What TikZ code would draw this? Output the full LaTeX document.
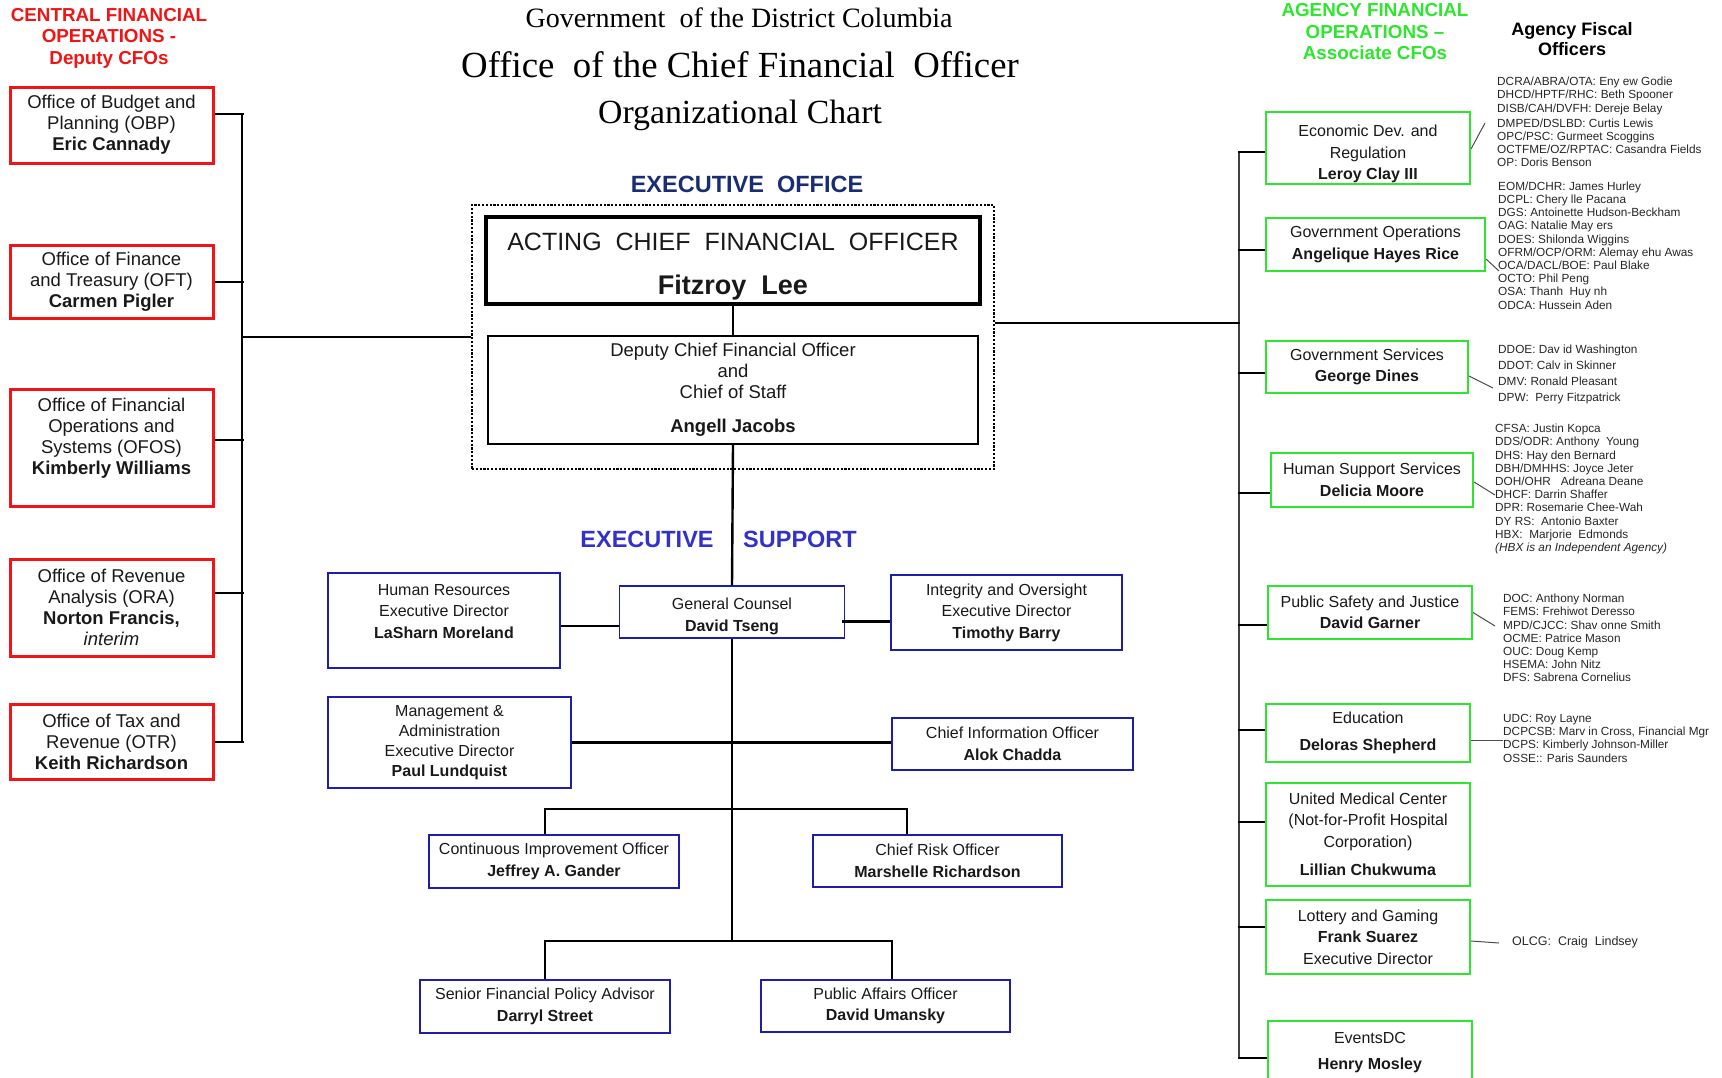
\documentclass[tikz,border=0pt]{standalone}
\usepackage{fontspec}
\setmainfont{Liberation Sans}
\newfontfamily\titlefont{Liberation Serif}
\definecolor{cfored}{RGB}{240,20,20}
\definecolor{afogreen}{RGB}{45,230,45}
\definecolor{execnavy}{RGB}{25,45,115}
\definecolor{suppblue}{RGB}{50,50,200}
\definecolor{boxblue}{RGB}{30,30,170}
\newcommand{\fs}[2]{\fontsize{#1}{#2}\selectfont}
\tikzset{
  box/.style     = {align=center, inner sep=0pt, text=black!90},
  central/.style = {box, draw=cfored, line width=3pt, minimum width=203pt, font=\fs{18.5}{21}},
  acfobox/.style = {box, draw=black, line width=4.5pt},
  dcfobox/.style = {box, draw=black, line width=1.2pt, font=\fs{18.5}{21}},
  sup/.style     = {box, draw=boxblue, line width=1.6pt, font=\fs{16}{21.5}},
  agency/.style  = {box, draw=afogreen, line width=2pt, minimum width=204pt, font=\fs{16}{21.5}},
  fo/.style      = {anchor=north west, align=left, inner sep=0pt, font=\fs{11.8}{13.2}, text=black!85},
  link/.style    = {draw=black, line width=2.4pt},
  spine/.style   = {draw=black, line width=2pt},
  tick/.style    = {draw=black!70, line width=1pt},
  head/.style    = {align=center, inner sep=0pt, font=\fs{18.8}{21.5}\bfseries},
  bighead/.style = {inner sep=0pt, font=\fs{23.5}{26}\bfseries},
}

\begin{document}
\begin{tikzpicture}[x=1pt, y=-1pt]
\clip (0,0) rectangle (1722,1077);

% titles
\node[font=\titlefont\fs{28}{32}] (govt)  at (739,17.5) {Government\ \ of the District Columbia};
\node[font=\titlefont\fs{36.8}{40}] (ocfo)  at (740,65)   {Office\ \ of the Chief Financial\ \ Officer};
\node[font=\titlefont\fs{33.8}{38}] (chart) at (740,115)  {Organizational Chart};

% central financial operations
\node[head, text=cfored] (cfohead) at (109,38) {CENTRAL FINANCIAL\\OPERATIONS -\\Deputy CFOs};
\node[central, minimum height=76]  (obp)  at (111.5,125)   {Office of Budget and\\Planning (OBP)\\\textbf{Eric Cannady}};
\node[central, minimum height=73]  (oft)  at (111.5,281.5) {Office of Finance\\and Treasury (OFT)\\\textbf{Carmen Pigler}};
\node[central, minimum height=117] (ofos) at (111.5,447.5) {Office of Financial\\Operations and\\Systems (OFOS)\\\textbf{Kimberly Williams}\\[1pt]};
\node[central, minimum height=97]  (ora)  at (111.5,607.5) {Office of Revenue\\Analysis (ORA)\\\textbf{Norton Francis,}\\\textit{interim}};
\node[central, minimum height=75]  (otr)  at (111.5,741.5) {Office of Tax and\\Revenue (OTR)\\\textbf{Keith Richardson}};

% executive office
\node[bighead, text=execnavy] (exoff) at (747,184.5) {EXECUTIVE\ \ OFFICE};
\node[draw=black, line width=2.2pt, dash pattern=on 2.2pt off 1.6pt,
      minimum width=522, minimum height=264, inner sep=0pt] (execbox) at (733,337) {};
\node[acfobox, minimum width=494, minimum height=87, font=\fs{25}{30}] (acfo) at (733,260.5)
  {ACTING\ \ CHIEF\ \ FINANCIAL\ \ OFFICER\\[14pt]{\fs{27}{30}\bfseries Fitzroy\ \ Lee}\\[-36pt]};
\node[dcfobox, minimum width=490, minimum height=108] (dcfo) at (733,390)
  {Deputy Chief Financial Officer\\and\\Chief of Staff\\[13pt]\textbf{Angell Jacobs}};

% executive support
\node[bighead, text=suppblue] (exsup1) at (647,539) {EXECUTIVE};
\node[bighead, text=suppblue] (exsup2) at (800,539) {SUPPORT};
\node[sup, minimum width=232, minimum height=95] (hr)    at (444,620.5)  {Human Resources\\Executive Director\\\textbf{LaSharn Moreland}\\[-3pt]};
\node[sup, minimum width=225, minimum height=52] (gc)    at (732,612)    {General Counsel\\\textbf{David Tseng}\\[-27pt]};
\node[sup, minimum width=231, minimum height=75] (integ) at (1006.5,612.5){Integrity and Oversight\\Executive Director\\\textbf{Timothy Barry}};
\node[sup, minimum width=243, minimum height=91, font=\fs{16}{20}] (mgmt) at (449.5,742.5)
  {Management \&\\Administration\\Executive Director\\\textbf{Paul Lundquist}};
\node[sup, minimum width=241, minimum height=52] (cio)   at (1012.5,744) {Chief Information Officer\\\textbf{Alok Chadda}};
\node[sup, minimum width=250, minimum height=53] (cip)   at (554,861.5)  {Continuous Improvement Officer\\\textbf{Jeffrey A. Gander}};
\node[sup, minimum width=249, minimum height=52] (cro)   at (937.5,861)  {Chief Risk Officer\\\textbf{Marshelle Richardson}};
\node[sup, minimum width=250, minimum height=53] (sfpa)  at (545,1006.5) {Senior Financial Policy Advisor\\\textbf{Darryl Street}};
\node[sup, minimum width=249, minimum height=52] (pao)   at (885.5,1006) {Public Affairs Officer\\\textbf{David Umansky}};

% agency financial operations
\node[head, text=afogreen] (afohead) at (1375,32) {AGENCY FINANCIAL\\OPERATIONS --\\Associate CFOs};
\node[align=center, inner sep=0pt, font=\fs{18}{20}\bfseries] (fohead) at (1572,39) {Agency Fiscal\\Officers};
\node[agency, minimum height=72]  (econ) at (1368,148)    {Economic Dev. and\\Regulation\\\textbf{Leroy Clay III}\\[-30pt]};
\node[agency, minimum width=219, minimum height=53] (gops) at (1375.5,244.5) {Government Operations\\\textbf{Angelique Hayes Rice}};
\node[agency, minimum width=202, minimum height=52] (gsvc) at (1367,367) {Government Services\\\textbf{George Dines}};
\node[agency, minimum width=202, minimum height=54] (hss)  at (1372,480) {Human Support Services\\\textbf{Delicia Moore}};
\node[agency, minimum height=53]  (psj)  at (1370,612.5)  {Public Safety and Justice\\\textbf{David Garner}};
\node[agency, minimum height=58]  (edu)  at (1368,733)    {Education\\[6pt]\textbf{Deloras Shepherd}};
\node[agency, minimum height=103] (umc)  at (1368,834.5)  {United Medical Center\\(Not-for-Profit Hospital\\Corporation)\\[7pt]\textbf{Lillian Chukwuma}};
\node[agency, minimum height=74]  (lott) at (1368,937)    {Lottery and Gaming\\\textbf{Frank Suarez}\\Executive Director};
\node[agency, minimum height=79]  (evdc) at (1370,1060.5) {EventsDC\\[5pt]\textbf{Henry Mosley}\\[-2pt]};

% agency fiscal officers
\node[fo] (fo1) at (1497,77) {DCRA/ABRA/OTA: Eny ew Godie\\DHCD/HPTF/RHC: Beth Spooner\\DISB/CAH/DVFH: Dereje Belay\\[2pt]
  DMPED/DSLBD: Curtis Lewis\\OPC/PSC: Gurmeet Scoggins\\OCTFME/OZ/RPTAC: Casandra Fields\\OP: Doris Benson};
\node[fo] (fo2) at (1498,181.5) {EOM/DCHR: James Hurley\\DCPL: Chery lle Pacana\\DGS: Antoinette Hudson-Beckham\\OAG: Natalie May ers\\
  DOES: Shilonda Wiggins\\OFRM/OCP/ORM: Alemay ehu Awas\\OCA/DACL/BOE: Paul Blake\\OCTO: Phil Peng\\OSA: Thanh\ \ Huy nh\\ODCA: Hussein Aden};
\node[fo, font=\fs{11.8}{16}] (fo3) at (1498,345) {DDOE: Dav id Washington\\DDOT: Calv in Skinner\\DMV: Ronald Pleasant\\DPW:\ \ Perry Fitzpatrick};
\node[fo] (fo4) at (1495,424) {CFSA: Justin Kopca\\DDS/ODR: Anthony\ \ Young\\DHS: Hay den Bernard\\DBH/DMHHS: Joyce Jeter\\DOH/OHR\ \ \ Adreana Deane\\
  DHCF: Darrin Shaffer\\DPR: Rosemarie Chee-Wah\\DY RS:\ \ Antonio Baxter\\HBX:\ \ Marjorie\ \ Edmonds\\\textit{(HBX is an Independent Agency)}};
\node[fo] (fo5) at (1503,594) {DOC: Anthony Norman\\FEMS: Frehiwot Deresso\\MPD/CJCC: Shav onne Smith\\OCME: Patrice Mason\\OUC: Doug Kemp\\
  HSEMA: John Nitz\\DFS: Sabrena Cornelius};
\node[fo] (fo6) at (1503,714) {UDC: Roy Layne\\DCPCSB: Marv in Cross, Financial Mgr\\DCPS: Kimberly Johnson-Miller\\OSSE:: Paris Saunders};
\node[fo, anchor=west, font=\fs{12.5}{14}] (fo7) at (1512,942) {OLCG:\ \ Craig\ \ Lindsey};

% left spine
\coordinate (ltop) at (242,114);
\coordinate (lbot) at (242,741.5);
\draw[spine] (ltop) -- (lbot);
\foreach \b/\dy in {obp/11, oft/0, ofos/7.5, ora/14.5, otr/0}
  \draw[spine] ([yshift=\dy]\b.east) -- ++(29,0);
\draw[link] (execbox.west) -- (execbox.west -| ltop);

% right spine
\coordinate (rtop) at (1239,152);
\coordinate (rbot) at (1239,1058);
\draw[spine, draw=black!75, line width=1.6pt] (rtop) -- (rbot);
\draw[link] ([yshift=14]execbox.east) -- ++(245,0);
\foreach \b/\dy/\dx in {econ/-4/27, gops/-5.5/27, gsvc/-6/27, hss/-13/32, psj/-12.5/29,
                        edu/3/27, umc/12.5/27, lott/10/27, evdc/2.5/29}
  \draw[link] ([yshift=\dy]\b.west) -- ++(-\dx,0);

% executive chain
\coordinate (mid1) at (732,809);
\coordinate (mid2) at (732,941);
\draw[link] (acfo) -- (dcfo);
\draw[link] (dcfo.south) -- (gc.north);
\draw[link] (gc.south) -- (mid2);
\draw[link] ([yshift=-5.5]hr.east) -- ++(58,0);
\draw[link] ([yshift=-9]integ.west) -- ++(-48,0);
\draw[link] (mgmt.east) -- (mgmt.east -| cio.west);
\draw[link] ([xshift=-9]cip.north) |- (mid1) -| ([xshift=-30.5]cro.north);
\draw[link] (sfpa.north) |- (mid2) -| ([xshift=6.5]pao.north);

% pointers to fiscal officer lists
\coordinate (t1) at (1485,123);
\coordinate (t2) at (1499,271);
\coordinate (t3) at (1493,388);
\coordinate (t4) at (1495,495);
\coordinate (t5) at (1495,626);
\coordinate (t6) at (1503,740);
\coordinate (t7) at (1499,943);
\draw[tick] ([yshift=-1]econ.east) -- (t1);
\draw[tick] ([yshift=-14.5]gops.east) -- (t2);
\draw[tick] ([yshift=-9]gsvc.east) -- (t3);
\draw[tick] ([yshift=-2]hss.east) -- (t4);
\draw[tick] (psj.east) -- (t5);
\draw[tick] ([yshift=-7]edu.east) -- (t6);
\draw[tick] ([yshift=-4]lott.east) -- (t7);
\end{tikzpicture}
\end{document}
